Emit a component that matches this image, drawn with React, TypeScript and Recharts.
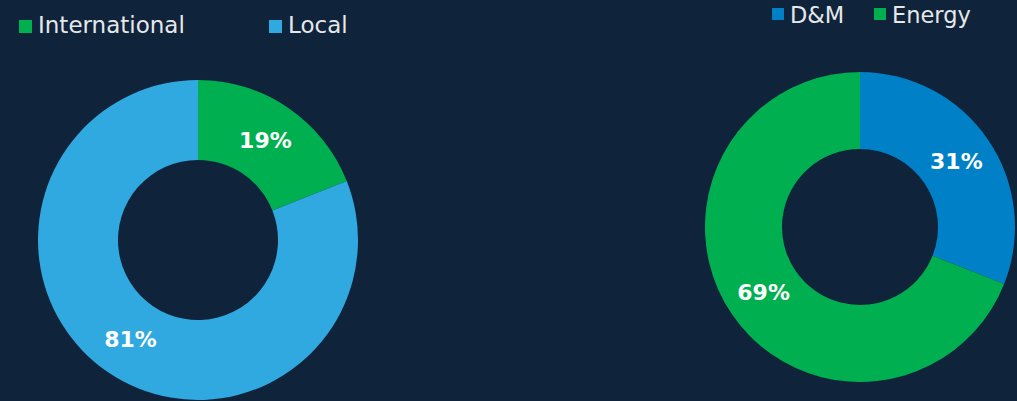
import React from 'react'
import { PieChart, Pie, Cell } from 'recharts'

const BG = '#0f233a'

// left donut: market split
const marketNames = ['International', 'Local']
const marketValues = [19, 81]
const marketColors = ['#00b050', '#30a8e0']

// right donut: business split
const segmentNames = ['D&M', 'Energy']
const segmentValues = [31, 69]
const segmentColors = ['#0080c6', '#00b050']

const RAD = Math.PI / 180
const FONT = '"DejaVu Sans", sans-serif'

const renderLabel = (p: any) => {
  const r = (p.innerRadius + p.outerRadius) / 2
  const x = p.cx + r * Math.cos(-p.midAngle * RAD)
  const y = p.cy + r * Math.sin(-p.midAngle * RAD)
  return (
    <text x={x} y={y} fill="#ffffff" textAnchor="middle" dominantBaseline="central"
      fontFamily={FONT} fontWeight="bold" fontSize={22}>
      {`${Math.round(p.percent * 100)}%`}
    </text>
  )
}

// legend items placed like the source slide: square + label
function LegendItem({ name, color, x, y, size, fontSize, textTop }: any) {
  return (
    <>
      <span style={{ position: 'absolute', left: x, top: y, width: size, height: size, background: color }} />
      <span style={{ position: 'absolute', left: x + size + 6, top: textTop, fontFamily: FONT, fontSize,
        color: '#e6e8ea', lineHeight: 'normal', whiteSpace: 'nowrap' }}>{name}</span>
    </>
  )
}

export default function App() {
  const market = marketNames.map((name, i) => ({ name, value: marketValues[i] }))
  const segment = segmentNames.map((name, i) => ({ name, value: segmentValues[i] }))
  const margin = { top: 0, right: 0, bottom: 0, left: 0 }

  return (
    <div style={{ position: 'absolute', left: 0, top: 0, width: 1017, height: 401, background: BG, overflow: 'hidden' }}>
      <div style={{ position: 'absolute', left: 0, top: 0 }}>
        <PieChart width={420} height={401} margin={margin}>
          <Pie data={market} dataKey="value" nameKey="name" cx={198} cy={240}
            innerRadius={80} outerRadius={160} startAngle={90} endAngle={-270}
            stroke="none" label={renderLabel} labelLine={false} isAnimationActive={false}>
            {market.map((d, i) => <Cell key={d.name} fill={marketColors[i]} />)}
          </Pie>
        </PieChart>
      </div>
      <div style={{ position: 'absolute', left: 600, top: 0 }}>
        <PieChart width={417} height={401} margin={margin}>
          <Pie data={segment} dataKey="value" nameKey="name" cx={260} cy={227}
            innerRadius={78} outerRadius={155} startAngle={90} endAngle={-270}
            stroke="none" label={renderLabel} labelLine={false} isAnimationActive={false}>
            {segment.map((d, i) => <Cell key={d.name} fill={segmentColors[i]} />)}
          </Pie>
        </PieChart>
      </div>
      <LegendItem name={marketNames[0]} color={marketColors[0]} x={19} y={20} size={13} fontSize={23} textTop={12} />
      <LegendItem name={marketNames[1]} color={marketColors[1]} x={269} y={20} size={13} fontSize={23} textTop={12} />
      <LegendItem name={segmentNames[0]} color={segmentColors[0]} x={772} y={8} size={12} fontSize={22.5} textTop={2} />
      <LegendItem name={segmentNames[1]} color={segmentColors[1]} x={874} y={8} size={12} fontSize={22.5} textTop={2} />
    </div>
  )
}
